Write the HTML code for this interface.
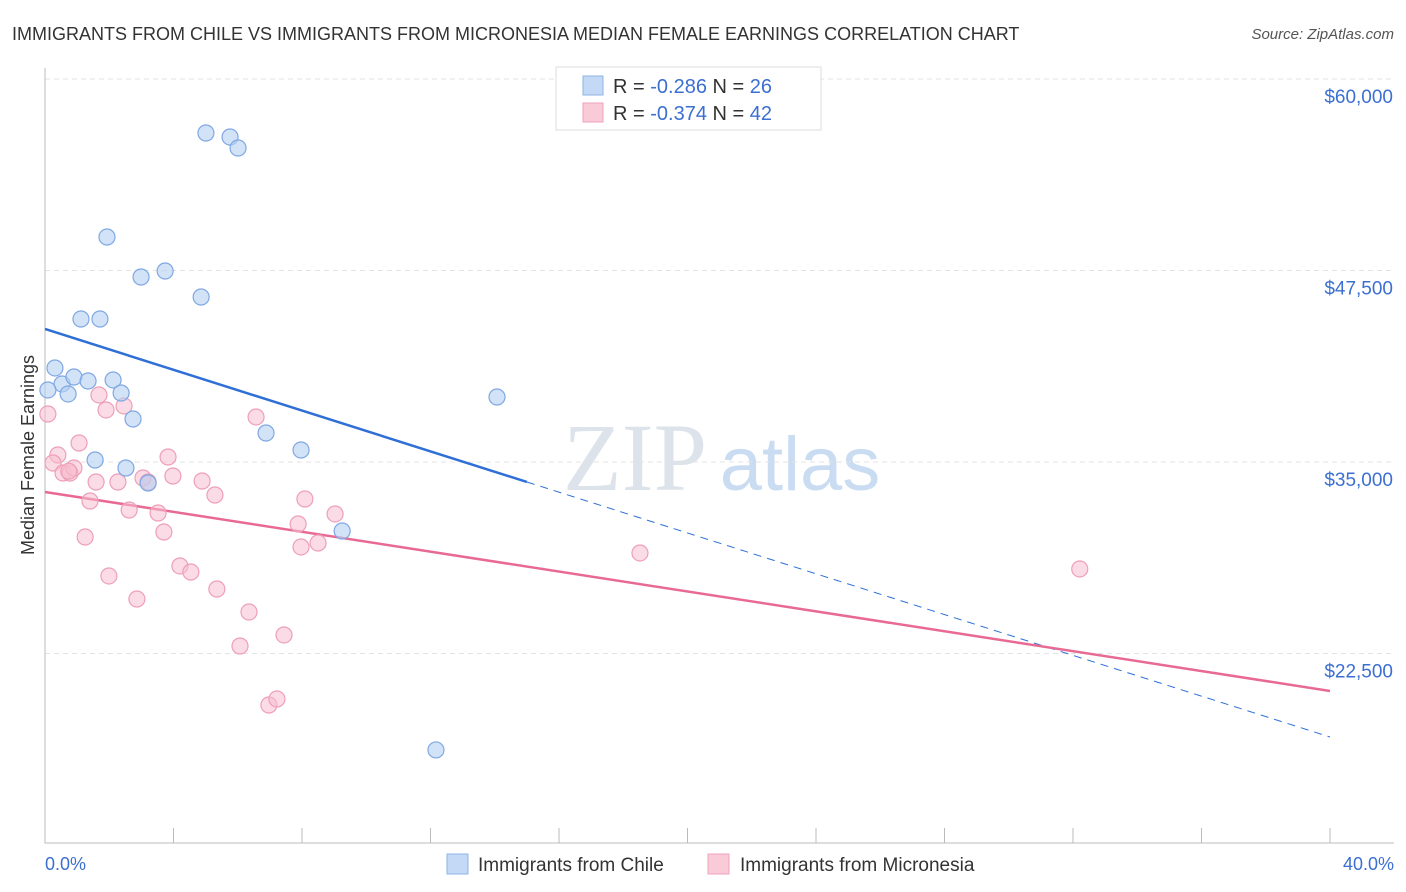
<!DOCTYPE html>
<html><head><meta charset="utf-8"><style>
body{margin:0;background:#fff;font-family:"Liberation Sans",sans-serif;}
svg{display:block}
</style></head><body>
<svg width="1406" height="892">
<text x="12" y="40" font-size="18" fill="#333">IMMIGRANTS FROM CHILE VS IMMIGRANTS FROM MICRONESIA MEDIAN FEMALE EARNINGS CORRELATION CHART</text>
<text x="1394" y="39" font-size="15" fill="#555" text-anchor="end" font-style="italic">Source: ZipAtlas.com</text>
<g><text x="635" y="490" font-size="96" fill="#dde3ea" font-family="Liberation Serif" text-anchor="middle">ZIP</text><text x="800" y="490" font-size="76" fill="#c9dcf2" text-anchor="middle">atlas</text></g>
<g id="grid"></g><g id="axes"></g><g id="lines"></g><g id="pts"></g>
<text transform="translate(34,455) rotate(-90)" font-size="18" fill="#333" text-anchor="middle">Median Female Earnings</text>
<text x="45" y="870" font-size="18" fill="#3b6fd1">0.0%</text>
<text x="1394" y="870" font-size="18" fill="#3b6fd1" text-anchor="end">40.0%</text>
<g>
<rect x="556" y="67" width="265" height="63" fill="#fff" stroke="#ddd"/>
<rect x="583" y="76" width="20" height="19" fill="#c4d9f5" stroke="#8fb3e6"/>
<rect x="583" y="103" width="20" height="19" fill="#f9cbd9" stroke="#efa0b9"/>
<text x="613" y="93" font-size="20" fill="#333">R = <tspan fill="#3b6fd1">-0.286</tspan>   N = <tspan fill="#3b6fd1">26</tspan></text>
<text x="613" y="120" font-size="20" fill="#333">R = <tspan fill="#3b6fd1">-0.374</tspan>   N = <tspan fill="#3b6fd1">42</tspan></text>
</g>
<g>
<rect x="447" y="854" width="21" height="20" fill="#c4d9f5" stroke="#8fb3e6"/>
<text x="478" y="871" font-size="19" fill="#333">Immigrants from Chile</text>
<rect x="708" y="854" width="21" height="20" fill="#f9cbd9" stroke="#efa0b9"/>
<text x="740" y="871" font-size="19" fill="#333">Immigrants from Micronesia</text>
</g>
</svg>
<script>
const yTicks=[22500,35000,47500,60000];
const yTickLabels=["$22,500","$35,000","$47,500","$60,000"];
const chileX=[5.01,5.76,6.01,1.93,2.99,3.74,4.86,1.12,1.71,0.31,0.53,0.90,1.34,0.72,2.12,2.37,2.74,0.09,6.88,7.97,1.56,2.52,3.21,9.25,14.07,12.17];
const chileY=[56475,56214,55496,49687,47076,47468,45771,44335,44335,41137,40093,40549,40288,39440,40354,39505,37808,39701,36894,35784,35131,34609,33630,30497,39244,16204];
const microX=[0.09,0.40,0.25,0.56,0.78,0.90,1.06,1.25,1.40,1.59,1.68,1.90,1.99,2.27,2.46,2.62,2.86,3.05,3.21,3.52,3.70,3.83,3.98,4.20,4.54,4.89,5.29,5.35,6.07,6.35,6.57,6.97,7.22,7.44,7.88,7.97,8.09,8.50,9.03,18.52,32.21,0.74];
const microY=[38134,35458,34935,34283,34283,34609,36241,30105,32455,33695,39375,38396,27560,33695,38657,31867,26058,33956,33695,31672,30432,35327,34087,28213,27821,33760,32846,26711,22990,25210,37939,19139,19530,23709,30954,29453,32586,29714,31607,29062,28017,34400];
const trendChile=[43683,17052];
const trendMicro=[33044,20055];
const trendSplitX=15;
const X=v=>45+v/40*1285;
const Y=v=>79+(60000-v)/12500*191.5;
const NS="http://www.w3.org/2000/svg";
function mk(p,t,a){const e=document.createElementNS(NS,t);for(const k in a)e.setAttribute(k,a[k]);document.getElementById(p).appendChild(e);return e;}
yTicks.forEach((t,i)=>{
 const g=mk('grid','line',{x1:45,x2:1394,y1:Y(t),y2:Y(t),stroke:'#e3e3e3','stroke-dasharray':'5,4'});
 
 
 const l=mk('grid','text',{x:1393,y:Y(t)+24,'font-size':19,fill:'#3b6fd1','text-anchor':'end'});
 l.textContent=yTickLabels[i];
 
 
});
const ax=mk('axes','path',{d:'M45,68V843H1394',stroke:'#bbb',fill:'none'});


for(let i=0;i<=10;i++){
 const t=mk('axes','line',{x1:X(i*4),x2:X(i*4),y1:828,y2:843,stroke:'#bbb'});
 
 
}
const cy=x=>trendChile[0]+(trendChile[1]-trendChile[0])*x/40;
const l1=mk('lines','line',{x1:X(0),y1:Y(cy(0)),x2:X(trendSplitX),y2:Y(cy(trendSplitX)),stroke:'#2f6fd6','stroke-width':2.5});


const l2=mk('lines','line',{x1:X(trendSplitX),y1:Y(cy(trendSplitX)),x2:X(40),y2:Y(cy(40)),stroke:'#2f6fd6','stroke-width':1,'stroke-dasharray':'8,6'});


const l3=mk('lines','line',{x1:X(0),y1:Y(trendMicro[0]),x2:X(40),y2:Y(trendMicro[1]),stroke:'#e86a93','stroke-width':2.5});


microX.forEach((x,i)=>{
 const c=mk('pts','circle',{cx:X(x),cy:Y(microY[i]),r:8,fill:'rgba(248,190,208,0.55)',stroke:'#ee9fb8','stroke-width':1.2});
 
 
});
chileX.forEach((x,i)=>{
 const c=mk('pts','circle',{cx:X(x),cy:Y(chileY[i]),r:8,fill:'rgba(180,206,242,0.6)',stroke:'#7fa8e3','stroke-width':1.2});
 
 
});
</script>
</body></html>
